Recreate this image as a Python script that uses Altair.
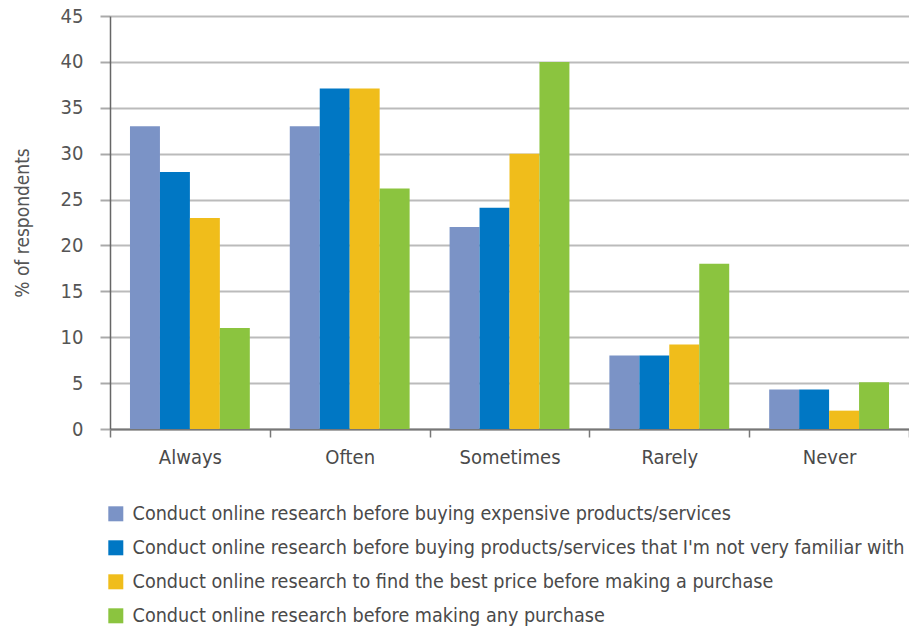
import altair as alt
import pandas as pd

# Survey answers, grouped by frequency
categories = ["Always", "Often", "Sometimes", "Rarely", "Never"]
series = [
    "Conduct online research before buying expensive products/services",
    "Conduct online research before buying products/services that I'm not very familiar with",
    "Conduct online research to find the best price before making a purchase",
    "Conduct online research before making any purchase",
]
expensive = [33, 33, 22, 8, 4.3]
unfamiliar = [28, 37.1, 24.1, 8, 4.3]
best_price = [23, 37.1, 30, 9.2, 2]
any_purchase = [11, 26.2, 40, 18, 5.1]
colors = ["#7b93c6", "#0077c4", "#f0bd1b", "#8bc43f"]

rows = []
for s, vals in zip(series, [expensive, unfamiliar, best_price, any_purchase]):
    for c, v in zip(categories, vals):
        rows.append({"freq": c, "series": s, "pct": v})
df = pd.DataFrame(rows)

FONT = "Liberation Sans Narrow, DejaVu Sans Condensed, Liberation Sans, sans-serif"

chart = (
    alt.Chart(df)
    .mark_bar()
    .encode(
        x=alt.X(
            "freq:N",
            sort=categories,
            scale=alt.Scale(paddingInner=0, paddingOuter=0),
            axis=alt.Axis(
                title=None,
                labelAngle=0,
                tickBand="extent",
                tickSize=8,
                tickColor="#777777",
                tickWidth=1.5,
                domainColor="#777777",
                domainWidth=2,
                labelFont=FONT,
                labelFontSize=20,
                labelColor="#4a4a4a",
                labelPadding=10,
            ),
        ),
        xOffset=alt.XOffset(
            "series:N",
            sort=series,
            scale=alt.Scale(paddingInner=0, paddingOuter=0.667),
        ),
        y=alt.Y(
            "pct:Q",
            scale=alt.Scale(domain=[0, 45], nice=False),
            axis=alt.Axis(
                title="% of respondents",
                values=list(range(0, 50, 5)),
                tickSize=10,
                tickColor="#aaaaaa",
                tickWidth=2,
                gridColor="#bbbbbb",
                gridWidth=2,
                domainColor="#666666",
                domainWidth=1.5,
                labelFont=FONT,
                labelFontSize=20,
                labelColor="#555555",
                labelPadding=17,
                titleFont=FONT,
                titleFontSize=19,
                titleFontWeight="normal",
                titleColor="#555555",
                titlePadding=28,
            ),
        ),
        color=alt.Color(
            "series:N",
            sort=series,
            scale=alt.Scale(domain=series, range=colors),
            legend=alt.Legend(
                title=None,
                orient="none",
                legendX=-4,
                legendY=488,
                symbolType="square",
                symbolSize=225,
                symbolStrokeWidth=0,
                labelFont=FONT,
                labelFontSize=19.6,
                labelColor="#4a4a4a",
                labelOffset=7,
                labelLimit=2000,
                rowPadding=13,
            ),
        ),
    )
    .properties(
        width=799,
        height=413,
        padding={"left": 110, "top": 16, "right": 0, "bottom": 200},
        autosize=alt.AutoSizeParams(type="none"),
    )
    .configure_view(stroke=None)
)

chart.save("out.html", embed_options={"renderer": "svg", "actions": False})
